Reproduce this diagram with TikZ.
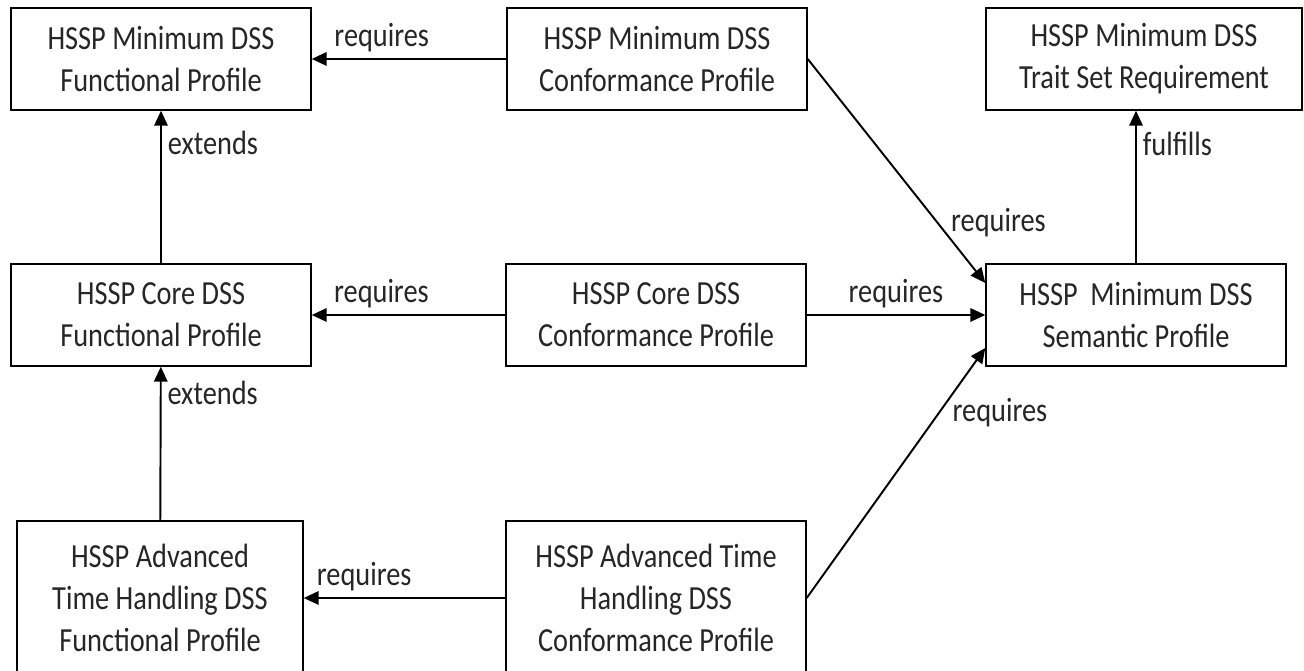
\documentclass[tikz,border=0pt]{standalone}
\usepackage{fontspec}
\setmainfont[FakeStretch=0.84]{Carlito}
\usetikzlibrary{arrows.meta}

\begin{document}
\begin{tikzpicture}[x=0.02cm, y=0.02cm,
    font=\fontsize{19.2pt}{24pt}\selectfont,
    text=black!85,
    profile/.style={draw, line width=0.85pt, align=center, inner sep=0pt,
        minimum width=6cm, minimum height=2.04cm},
    >={Triangle[length=0.3cm, width=0.27cm]},
    link/.style={->, line width=1.1pt}]
    \useasboundingbox (0, 0) rectangle (1304, 671);

    \node (minfun) [profile] at (161, 612) {HSSP Minimum DSS\\Functional Profile};
    \node (minconf) [profile] at (657, 612) {HSSP Minimum DSS\\Conformance Profile};
    \node (trait) [profile, minimum width=6.32cm] at (1144, 612) {HSSP Minimum DSS\\Trait Set Requirement};
    \node (corefun) [profile] at (161, 356) {HSSP Core DSS\\Functional Profile};
    \node (coreconf) [profile] at (656, 356) {HSSP Core DSS\\Conformance Profile};
    \node (semantic) [profile] at (1136, 356) {HSSP\ \ Minimum DSS\\Semantic Profile};
    \node (advfun) [profile, minimum width=5.72cm, minimum height=3.08cm] at (160, 73) {HSSP Advanced\\Time Handling DSS\\Functional Profile};
    \node (advconf) [profile, minimum height=3.08cm] at (656, 73) {HSSP Advanced Time\\Handling DSS\\Conformance Profile};

    \draw[link] (minconf) -- (minfun) node[pos=0.64, above] {requires};
    \draw[link] (corefun) -- (minfun) node[pos=0.79, right] {extends};
    \draw[link] (coreconf) -- (corefun) node[pos=0.64, above] {requires};
    \draw[link] (coreconf) -- (semantic) node[midway, above] {requires};
    \draw[link] (advfun) -- (corefun) node[pos=0.83, right] {extends};
    \draw[link] (advconf) -- (advfun) node[pos=0.7, above] {requires};
    \draw[link] (semantic) -- (semantic |- trait.south) node[pos=0.78, right] {fulfills};
    \draw[link] (minconf.east) -- ([yshift=0.64cm]semantic.west) node[pos=0.73, right=4pt] {requires};
    \draw[link] (advconf.east) -- ([yshift=-0.66cm]semantic.west) node[pos=0.74, right=4pt] {requires};
\end{tikzpicture}
\end{document}
